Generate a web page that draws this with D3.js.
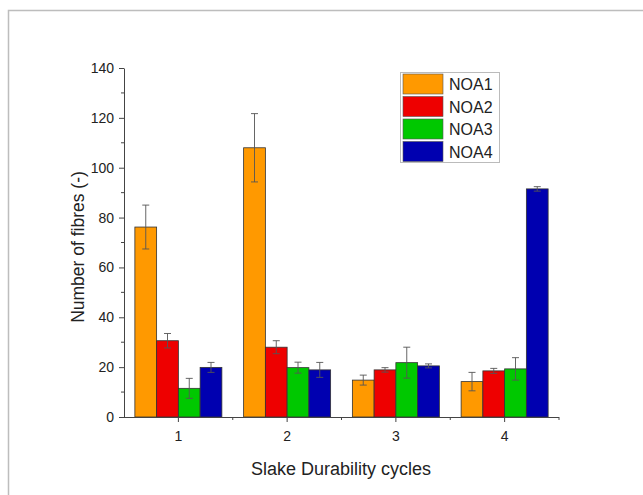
<!DOCTYPE html>
<html><head><meta charset="utf-8">
<script src="https://cdn.jsdelivr.net/npm/d3@7"></script>
<style>body{margin:0;background:#fff}svg{display:block}text{font-family:Arial,"Liberation Sans",sans-serif;fill:#222}</style>
</head><body>
<script>
const categories = ["1","2","3","4"];
const series = ["NOA1","NOA2","NOA3","NOA4"];
const colors = ["#FF9900","#EE0000","#00C800","#0000B0"];
const NOA1 = [76.2, 108, 14.8, 14.2];
const NOA2 = [30.6, 28, 18.9, 18.5];
const NOA3 = [11.5, 19.8, 21.8, 19.3];
const NOA4 = [19.9, 18.9, 20.5, 91.5];
const NOA1err = [8.8, 13.7, 2.0, 3.7];
const NOA2err = [2.9, 2.6, 0.9, 1.0];
const NOA3err = [4.0, 2.2, 6.2, 4.5];
const NOA4err = [2.0, 3.0, 0.8, 0.9];
const yTicks = [0,20,40,60,80,100,120,140];

const values = [NOA1,NOA2,NOA3,NOA4];
const errs = [NOA1err,NOA2err,NOA3err,NOA4err];

const W=643,H=495;
const svg=d3.select("body").append("svg").attr("width",W).attr("height",H);
svg.append("rect").attr("x",8.5).attr("y",10.5).attr("width",W).attr("height",H).attr("fill","#fff").attr("stroke","#bdbdbd").attr("stroke-width",1.5);

const x0=124,x1=559,y0=417,y1=68;
const x=d3.scaleBand().domain(categories).range([x0,x1]).paddingInner(0.2).paddingOuter(0.1);
const xb=d3.scaleBand().domain(series).range([0,x.bandwidth()]);
const y=d3.scaleLinear().domain([0,140]).range([y0,y1]);

// bars
series.forEach((s,i)=>{
  const g=svg.append("g");
  categories.forEach((c,j)=>{
    const v=values[i][j];
    g.append("rect").attr("x",x(c)+xb(s)).attr("y",y(v)).attr("width",xb.bandwidth()).attr("height",y(0)-y(v))
      .attr("fill",colors[i]).attr("stroke","#333").attr("stroke-width",0.8);
  });
});
// error bars
series.forEach((s,i)=>{
  categories.forEach((c,j)=>{
    const v=values[i][j], e=errs[i][j];
    const cx=x(c)+xb(s)+xb.bandwidth()/2;
    svg.append("line").attr("x1",cx).attr("x2",cx).attr("y1",y(v+e)).attr("y2",y(v-e)).attr("stroke","#555").attr("stroke-width",0.9);
    [v+e,v-e].forEach(t=>svg.append("line").attr("x1",cx-3.5).attr("x2",cx+3.5).attr("y1",y(t)).attr("y2",y(t)).attr("stroke","#555").attr("stroke-width",0.9));
  });
});

// y axis
const ya=svg.append("g").attr("transform",`translate(${x0},0)`)
  .call(d3.axisLeft(y).tickValues(yTicks).tickSize(5).tickPadding(5).tickSizeOuter(0));
ya.selectAll("text").attr("font-size",14).style("fill","#222");
ya.selectAll("line,path").attr("stroke","#444");
d3.range(10,140,20).forEach(v=>svg.append("line").attr("x1",x0-3).attr("x2",x0).attr("y1",y(v)).attr("y2",y(v)).attr("stroke","#444"));

// x axis
const xa=svg.append("g").attr("transform",`translate(0,${y0})`)
  .call(d3.axisBottom(x).tickSize(5).tickPadding(9).tickSizeOuter(0));
xa.select("path").attr("d",`M${x0},0.5H${x1}`);
xa.selectAll("text").attr("font-size",14).style("fill","#222");
xa.selectAll("line,path").attr("stroke","#444");
const step=(x1-x0)/4;
d3.range(1,5).forEach(k=>svg.append("line").attr("x1",x0+k*step).attr("x2",x0+k*step).attr("y1",y0).attr("y2",y0+3).attr("stroke","#444"));

// axis titles
svg.append("text").attr("x",341).attr("y",475).attr("text-anchor","middle").attr("font-size",18).text("Slake Durability cycles");
svg.append("text").attr("transform","translate(84,247) rotate(-90)").attr("text-anchor","middle").attr("font-size",17.5).text("Number of fibres (-)");

// legend
const lg=svg.append("g");
lg.append("rect").attr("x",400.5).attr("y",72.5).attr("width",99).attr("height",90).attr("fill","#fff").attr("stroke","#bbb");
series.forEach((s,i)=>{
  const ry=74+i*22.5;
  lg.append("rect").attr("x",403).attr("y",ry).attr("width",40).attr("height",20).attr("fill",colors[i]).attr("stroke","#555").attr("stroke-width",0.6);
  lg.append("text").attr("x",449).attr("y",ry+16).attr("font-size",16).text(s);
});
</script>
</body></html>
